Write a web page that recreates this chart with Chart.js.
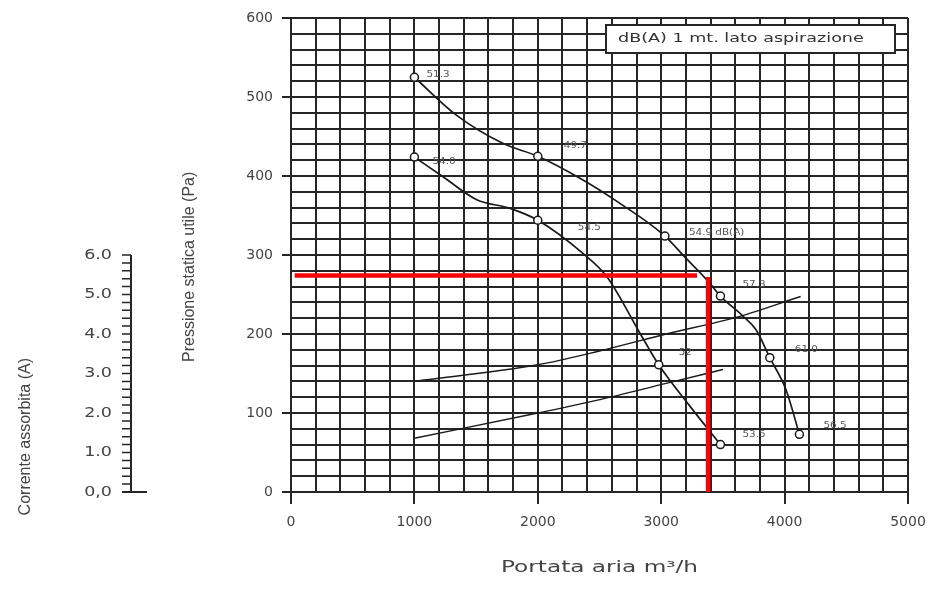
<!DOCTYPE html>
<html lang="it">
<head>
<meta charset="UTF-8">
<title>Curva caratteristica</title>
<script src="https://cdn.jsdelivr.net/npm/chart.js"></script>
<style>
  html, body { margin: 0; padding: 0; background: #fff; }
  #wrap { width: 946px; height: 590px; position: relative; }
</style>
</head>
<body>
<div id="wrap"><canvas id="fanChart"></canvas></div>
<script>
// curva superiore - pressione (Pa)
const highX = [1000, 1340, 1720, 2000, 2366, 2660, 3030, 3200, 3390, 3480, 3660, 3770, 3880, 4010, 4120];
const highY = [525, 477, 441, 425, 395, 366, 324, 296, 265, 248, 223, 205, 170, 130, 73];
const highMarkX = [1000, 2000, 3030, 3480, 3880, 4120];
const highMarkY = [525, 425, 324, 248, 170, 73];
const highLabels = ['51.3', '49.7', '54.9 dB(A)', '57.3', '61.0', '56.5'];

// curva inferiore
const lowX = [1000, 1232, 1505, 1775, 2000, 2366, 2557, 2828, 2980, 3231, 3480];
const lowY = [424, 399, 370, 359, 344, 302, 273, 201, 161, 109, 60];
const lowMarkX = [1000, 2000, 2980, 3480];
const lowMarkY = [424, 344, 161, 60];
const lowLabels = ['54.0', '54.5', '52', '53.5'];

// corrente assorbita (A)
const curAX = [1000, 2000, 2500, 3040, 3630, 4130];
const curA = [2.80, 3.22, 3.57, 4.00, 4.44, 4.95];
const curBX = [1000, 2000, 2504, 3040, 3500];
const curB = [1.36, 2.00, 2.34, 2.75, 3.10];

// punto di lavoro (linee rosse)
const workX = [30, 3290];
const workY = [274, 274];
const workVX = [3380, 3380];
const workVY = [272, 0];

const currentTicks = [0, 1, 2, 3, 4, 5, 6];
const currentTickLabels = ['0,0', '1.0', '2.0', '3.0', '4.0', '5.0', '6.0'];

const pts = (xs, ys) => xs.map((x, i) => ({ x: x, y: ys[i] }));

const GRID = '#262626';
const TXT = '#444';
Chart.defaults.font.family = "'DejaVu Sans', Verdana, sans-serif";
Chart.defaults.color = TXT;

// testo allargato in orizzontale come nell'originale
function wideText(ctx, text, x, y, sx, rot) {
  ctx.save();
  ctx.translate(x, y);
  if (rot) ctx.rotate(rot);
  ctx.scale(sx, 1);
  ctx.fillText(text, 0, 0);
  ctx.restore();
}

// asse della corrente a sinistra + titoli degli assi
const currentAxis = {
  id: 'currentAxis',
  afterDraw(chart) {
    const s = chart.scales.yA, ctx = chart.ctx;
    const x = 131;
    ctx.save();
    ctx.strokeStyle = GRID;
    ctx.lineWidth = 2;
    ctx.beginPath();
    ctx.moveTo(x, s.getPixelForValue(6));
    ctx.lineTo(x, s.getPixelForValue(0));
    ctx.stroke();
    ctx.lineWidth = 1.5;
    ctx.beginPath();
    for (let i = 0; i <= 30; i++) {
      const y = s.getPixelForValue(i * 0.2);
      ctx.moveTo(x - 9, y);
      ctx.lineTo(x, y);
    }
    ctx.stroke();
    ctx.lineWidth = 2;
    ctx.beginPath();
    ctx.moveTo(x - 9, s.getPixelForValue(0));
    ctx.lineTo(x + 16, s.getPixelForValue(0));
    ctx.stroke();
    ctx.fillStyle = TXT;
    ctx.font = "14px 'DejaVu Sans'";
    ctx.textAlign = 'right';
    ctx.textBaseline = 'middle';
    currentTicks.forEach((v, i) => wideText(ctx, currentTickLabels[i], x - 19, s.getPixelForValue(v), 1.25));
    ctx.textAlign = 'center';
    ctx.font = "16px 'Liberation Sans'";
    wideText(ctx, 'Corrente assorbita (A)', 26, s.getPixelForValue(1.4), 1, -Math.PI / 2);
    wideText(ctx, 'Pressione statica utile (Pa)', 190, chart.scales.y.getPixelForValue(285), 1, -Math.PI / 2);
    ctx.font = "16px 'DejaVu Sans'";
    const sx = chart.scales.x;
    wideText(ctx, 'Portata aria m³/h', (sx.left + sx.right) / 2, sx.bottom - 22, 1.45);
    ctx.restore();
  }
};

// etichette dB(A) vicino ai punti e riquadro in alto
const noiseLabels = {
  id: 'noiseLabels',
  afterDatasetsDraw(chart) {
    const ctx = chart.ctx, area = chart.chartArea;
    ctx.save();
    ctx.font = "8px 'DejaVu Sans'";
    ctx.fillStyle = '#555';
    ctx.textBaseline = 'middle';
    chart.data.datasets.forEach((ds, di) => {
      if (!ds.noise) return;
      const meta = chart.getDatasetMeta(di);
      meta.data.forEach((p, i) => {
        const off = ds.noiseOffset[i];
        wideText(ctx, ds.noise[i], p.x + off[0], p.y + off[1], 1.3);
      });
    });
    const bx = area.right - 302, by = area.top + 7;
    ctx.fillStyle = '#fff';
    ctx.fillRect(bx, by, 289, 28);
    ctx.strokeStyle = GRID;
    ctx.lineWidth = 2;
    ctx.strokeRect(bx, by, 289, 28);
    ctx.fillStyle = '#333';
    ctx.font = "13px 'DejaVu Sans'";
    wideText(ctx, 'dB(A) 1 mt. lato aspirazione', bx + 12, by + 14, 1.35);
    ctx.restore();
  }
};

const curveStyle = { showLine: true, borderColor: '#1a1a1a', borderWidth: 1.7, pointRadius: 0, tension: 0.35, cubicInterpolationMode: 'monotone' };
const markStyle = { showLine: false, pointRadius: 4, pointStyle: 'circle', pointBorderColor: '#1a1a1a', pointBackgroundColor: '#fff', pointBorderWidth: 1.5 };

new Chart(document.getElementById('fanChart'), {
  type: 'scatter',
  data: {
    datasets: [
      { data: pts(workX, workY), showLine: true, borderColor: '#ff0000', borderWidth: 4.5, pointRadius: 0 },
      { data: pts(workVX, workVY), showLine: true, borderColor: '#ff0000', borderWidth: 4.5, pointRadius: 0 },
      Object.assign({ data: pts(highMarkX, highMarkY), noise: highLabels,
        noiseOffset: [[12, -2], [26, -10], [24, -3], [22, -11], [25, -8], [24, -8]] }, markStyle),
      Object.assign({ data: pts(lowMarkX, lowMarkY), noise: lowLabels,
        noiseOffset: [[18, 5], [40, 8], [20, -12], [22, -10]] }, markStyle),
      Object.assign({ data: pts(highX, highY) }, curveStyle),
      Object.assign({ data: pts(lowX, lowY) }, curveStyle),
      Object.assign({ data: pts(curAX, curA), yAxisID: 'yA' }, curveStyle, { borderWidth: 1.4 }),
      Object.assign({ data: pts(curBX, curB), yAxisID: 'yA' }, curveStyle, { borderWidth: 1.4 })
    ]
  },
  options: {
    responsive: true,
    maintainAspectRatio: false,
    animation: false,
    layout: { padding: { left: 0, right: 38, top: 18, bottom: 0 } },
    plugins: { legend: { display: false }, tooltip: { enabled: false } },
    scales: {
      x: {
        type: 'linear', min: 0, max: 5000,
        afterFit: s => { s.height = 98; },
        ticks: { stepSize: 200, autoSkip: false, maxRotation: 0, padding: 10,
          font: { size: 14 }, color: TXT,
          callback: v => (v % 1000 === 0 ? v : '') },
        grid: { color: GRID, lineWidth: 2, tickLength: 12,
          tickColor: c => (c.tick && c.tick.value % 1000 === 0 ? GRID : 'rgba(0,0,0,0)') },
        border: { color: GRID, width: 2 }
      },
      y: {
        min: 0, max: 600,
        afterFit: s => { s.width = 291; },
        ticks: { stepSize: 20, autoSkip: false, padding: 9,
          font: { size: 14 }, color: TXT,
          callback: v => (v % 100 === 0 ? v : '') },
        grid: { color: GRID, lineWidth: 2, tickLength: 9,
          tickColor: c => (c.tick && c.tick.value % 100 === 0 ? GRID : 'rgba(0,0,0,0)') },
        border: { color: GRID, width: 2 }
      },
      yA: { display: false, min: 0, max: 12 }
    }
  },
  plugins: [currentAxis, noiseLabels]
});
</script>
</body>
</html>
